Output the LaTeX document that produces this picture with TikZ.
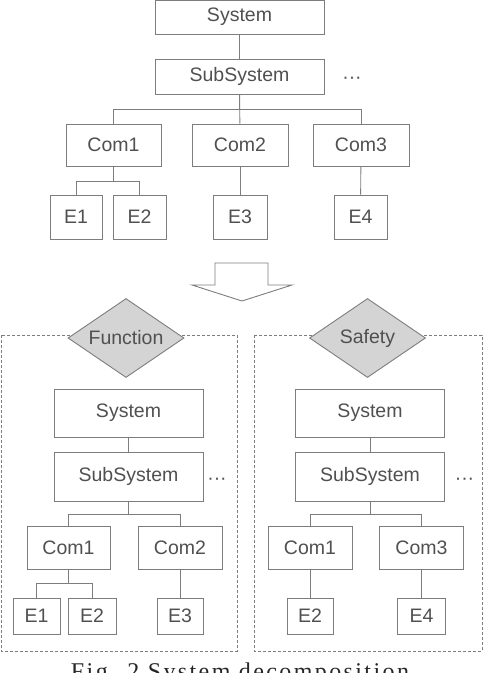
\documentclass[tikz,border=0pt]{standalone}
\usepackage{fontspec}
\setmainfont{Liberation Sans}
\newfontfamily\capfont[LetterSpace=10]{Liberation Serif}
\usetikzlibrary{shapes.geometric}
\definecolor{boxline}{RGB}{125,125,125}
\definecolor{boxtext}{RGB}{80,80,80}
\definecolor{viewfill}{RGB}{212,212,212}
\tikzset{
  box/.style={draw=boxline, line width=0.9pt, text=boxtext, inner sep=0pt,
    font=\fontsize{19.5}{22}\selectfont},
  link/.style={draw=boxline, line width=0.9pt},
  view/.style={diamond, aspect=1.47, draw=boxline, fill=viewfill, line width=0.9pt,
    inner sep=0pt, text=boxtext, font=\fontsize{19.5}{22}\selectfont},
  panel/.style={draw=boxline, densely dashed, line width=0.8pt},
  more/.style={text=boxtext, inner sep=0pt, anchor=base, font=\fontsize{19.5}{22}\selectfont}
}
\begin{document}
\begin{tikzpicture}[x=1pt, y=-1pt]
    \useasboundingbox (0,0) rectangle (488,673);
    % whole system
    \node[box, minimum width=169pt, minimum height=34pt] (sys) at (239.5,17) {System};
    \node[box, minimum width=169pt, minimum height=35pt] (sub) at (239.5,76.5) {SubSystem};
    \node[more] (dots) at (352,83) {···};
    \node[box, minimum width=95pt, minimum height=42pt] (com1) at (113.5,145) {Com1};
    \node[box, minimum width=96pt, minimum height=42pt] (com2) at (240,145) {Com2};
    \node[box, minimum width=96pt, minimum height=42pt] (com3) at (361,145) {Com3};
    \node[box, minimum width=52pt, minimum height=44pt] (e1) at (76,217) {E1};
    \node[box, minimum width=53pt, minimum height=44pt] (e2) at (139.5,217) {E2};
    \node[box, minimum width=54pt, minimum height=44pt] (e3) at (240,217) {E3};
    \node[box, minimum width=53pt, minimum height=44pt] (e4) at (360.5,217) {E4};
    \draw[link] (sys) -- (sub);
    \draw[link] (sub.south) -- ++(0,15) -| (com1.north);
    \draw[link] (sub.south) -- ++(0,15) -| (com3.north);
    \draw[link] (sub) -- (com2);
    \draw[link] (com1.south) -- ++(0,15) -| (e1.north);
    \draw[link] (com1.south) -- ++(0,15) -| (e2.north);
    \draw[link] (com2) -- (e3);
    \draw[link] (com3) -- (e4);
    % decomposition arrow
    \draw[link, fill=white] (215,263) -- (268,263) -- (268,285) -- (292,285)
      -- (242,301) -- (192,285) -- (215,285) -- cycle;
    % views
    \draw[panel] (1,335) rectangle (237,651);
    \draw[panel] (254,335) rectangle (482,651);
    \node[view, minimum width=116pt, minimum height=79pt] (func) at (126,338) {\makebox[0pt]{Function}};
    \node[view, minimum width=116pt, minimum height=79pt] (safe) at (367.5,338) {\makebox[0pt]{Safety}};
    % function view
    \node[box, minimum width=149pt, minimum height=48pt] (fsys) at (128.5,413) {System};
    \node[box, minimum width=149pt, minimum height=49pt] (fsub) at (128.5,476.5) {SubSystem};
    \node[more] (fdots) at (217,484) {···};
    \node[box, minimum width=83pt, minimum height=43pt] (fcom1) at (68.5,547.5) {Com1};
    \node[box, minimum width=84pt, minimum height=43pt] (fcom2) at (180,547.5) {Com2};
    \node[box, minimum width=47pt, minimum height=36pt] (fe1) at (36.5,616) {E1};
    \node[box, minimum width=48pt, minimum height=36pt] (fe2) at (92,616) {E2};
    \node[box, minimum width=46pt, minimum height=36pt] (fe3) at (180,616) {E3};
    \draw[link] (fsys) -- (fsub);
    \draw[link] (fsub.south) -- ++(0,13) -| (fcom1.north);
    \draw[link] (fsub.south) -- ++(0,13) -| (fcom2.north);
    \draw[link] (fcom1.south) -- ++(0,14) -| (fe1.north);
    \draw[link] (fcom1.south) -- ++(0,14) -| (fe2.north);
    \draw[link] (fcom2) -- (fe3);
    % safety view
    \begin{scope}[xshift=241.5pt]
      \node[box, minimum width=149pt, minimum height=48pt] (ssys) at (128.5,413) {System};
      \node[box, minimum width=149pt, minimum height=49pt] (ssub) at (128.5,476.5) {SubSystem};
      \node[more] (sdots) at (223,484) {···};
      \node[box, minimum width=84pt, minimum height=43pt] (scom1) at (68.5,547.5) {Com1};
      \node[box, minimum width=84pt, minimum height=43pt] (scom3) at (180,547.5) {Com3};
      \node[box, minimum width=46pt, minimum height=36pt] (se2) at (68.5,616) {E2};
      \node[box, minimum width=48pt, minimum height=36pt] (se4) at (180,616) {E4};
    \end{scope}
    \draw[link] (ssys) -- (ssub);
    \draw[link] (ssub.south) -- ++(0,13) -| (scom1.north);
    \draw[link] (ssub.south) -- ++(0,13) -| (scom3.north);
    \draw[link] (scom1) -- (se2);
    \draw[link] (scom3) -- (se4);
    % caption
    \node[anchor=base, inner sep=0pt, font=\capfont\fontsize{24}{26}\selectfont, text=black!85]
      (cap) at (240,679) {Fig. 2 System decomposition};
\end{tikzpicture}
\end{document}
